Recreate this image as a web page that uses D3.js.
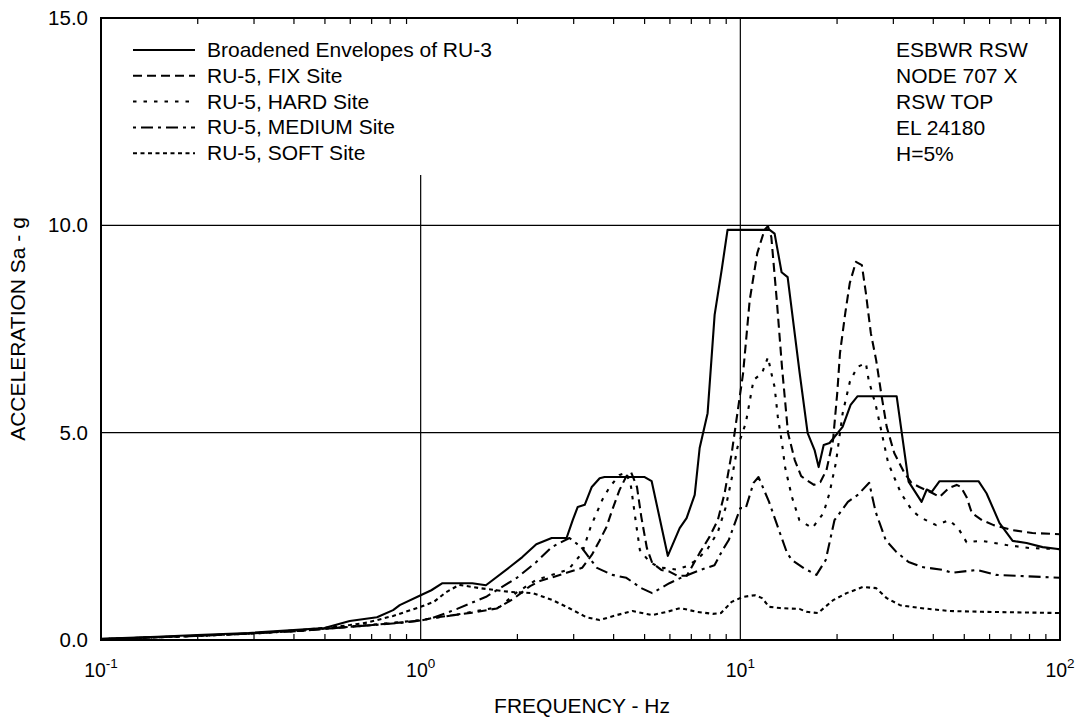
<!DOCTYPE html>
<html><head><meta charset="utf-8">
<script src="https://cdn.jsdelivr.net/npm/d3@7"></script>
<style>
body{margin:0;background:#fff}
text{font-family:"Liberation Sans",Arial,sans-serif;fill:#000}
</style>
</head><body>
<svg id="c" width="1083" height="717"></svg>
<script>
// ---------- data (frequency Hz, acceleration g) ----------
const envelopeRU3 = [[0.1,0.03],[0.15,0.08],[0.2,0.12],[0.29,0.17],[0.4,0.24],[0.5,0.29],[0.6,0.46],[0.73,0.55],[0.82,0.72],[0.86,0.84],[1.0,1.08],[1.08,1.2],[1.17,1.37],[1.45,1.37],[1.6,1.32],[1.9,1.76],[2.08,2.0],[2.3,2.31],[2.57,2.46],[2.86,2.46],[2.99,2.89],[3.1,3.21],[3.26,3.26],[3.43,3.69],[3.63,3.9],[3.76,3.93],[5.02,3.93],[5.28,3.83],[5.93,2.03],[6.46,2.7],[6.79,2.94],[7.2,3.5],[7.46,4.63],[7.9,5.47],[8.31,7.84],[8.74,8.92],[9.12,9.89],[12.35,9.89],[12.8,9.8],[13.46,8.87],[14.06,8.75],[15.33,6.44],[16.24,4.99],[17.07,4.58],[17.58,4.17],[18.23,4.7],[19.02,4.75],[20.89,5.14],[22.13,5.67],[23.28,5.88],[30.83,5.88],[33.6,3.82],[36.9,3.33],[38.3,3.63],[39.7,3.57],[42.0,3.83],[55.6,3.83],[58.9,3.54],[64.7,2.82],[71.1,2.39],[78.6,2.34],[88.2,2.24],[100,2.19]];
const fixSite = [[0.1,0.02],[0.2,0.1],[0.3,0.16],[0.42,0.22],[0.5,0.27],[0.68,0.35],[0.86,0.42],[1.0,0.47],[1.09,0.53],[1.27,0.6],[1.45,0.66],[1.73,0.76],[1.94,0.98],[2.2,1.3],[2.36,1.42],[2.86,1.62],[3.2,1.74],[3.43,2.05],[3.63,2.4],[3.81,2.72],[3.98,3.15],[4.19,3.62],[4.4,3.95],[4.55,4.05],[4.75,3.69],[4.9,2.97],[5.1,2.22],[5.3,1.86],[5.66,1.69],[6.0,1.65],[6.35,1.55],[6.8,1.55],[7.46,2.1],[8.0,2.48],[8.5,2.89],[8.93,3.54],[9.4,4.51],[10.2,6.43],[10.7,8.2],[11.3,9.33],[11.9,9.89],[12.2,9.98],[12.5,9.72],[13.0,8.2],[13.5,6.58],[14.1,4.99],[14.8,4.34],[15.5,3.95],[16.1,3.86],[17.0,3.74],[17.8,3.81],[18.6,4.1],[19.5,4.82],[20.1,5.96],[20.5,6.92],[21.3,7.89],[22.0,8.61],[23.0,9.12],[24.0,9.04],[24.7,8.37],[25.6,7.4],[26.6,6.75],[27.7,5.86],[28.7,5.14],[30.3,4.51],[32.6,4.03],[34.3,3.79],[36.3,3.69],[40,3.54],[42,3.45],[45,3.67],[47.5,3.74],[49,3.69],[51,3.45],[53,3.06],[57,2.89],[62,2.77],[71,2.65],[82,2.58],[100,2.55]];
const hardSite = [[0.1,0.02],[0.2,0.1],[0.3,0.16],[0.42,0.22],[0.5,0.27],[0.68,0.36],[0.86,0.43],[1.0,0.48],[1.27,0.6],[1.45,0.68],[1.77,0.8],[2.0,1.15],[2.3,1.45],[2.6,1.58],[2.9,1.7],[3.2,2.1],[3.4,2.72],[3.55,3.06],[3.7,3.38],[3.9,3.69],[4.19,3.98],[4.4,4.03],[4.55,3.7],[4.7,2.9],[4.85,2.17],[5.2,1.88],[5.6,1.75],[6.3,1.7],[6.8,1.78],[7.3,1.93],[7.9,2.2],[8.5,2.6],[9.0,3.2],[9.4,3.9],[9.8,4.65],[10.4,5.23],[11.0,6.27],[11.7,6.44],[12.2,6.82],[12.5,6.44],[12.8,6.1],[13.1,5.38],[13.5,4.75],[13.8,4.17],[14.5,3.45],[15.3,2.89],[16.8,2.7],[18.2,3.06],[19.0,3.54],[19.9,4.27],[20.9,5.47],[22.0,6.22],[23.2,6.58],[24.7,6.68],[25.2,6.27],[26.6,5.62],[27.7,4.99],[29.0,4.27],[31.8,3.54],[34.4,3.13],[36.5,2.96],[41,2.77],[45,2.89],[48,2.7],[51,2.36],[57,2.39],[68,2.29],[80,2.22],[100,2.19]];
const mediumSite = [[0.1,0.02],[0.2,0.1],[0.3,0.16],[0.42,0.22],[0.5,0.27],[0.68,0.35],[0.86,0.41],[1.0,0.47],[1.09,0.53],[1.3,0.75],[1.61,1.05],[1.77,1.25],[2.0,1.5],[2.3,1.88],[2.57,2.24],[2.92,2.46],[3.18,2.24],[3.56,1.74],[3.98,1.57],[4.4,1.5],[4.9,1.25],[5.3,1.13],[6.0,1.37],[6.6,1.52],[7.5,1.69],[8.3,1.8],[8.8,2.17],[9.2,2.41],[10.0,3.18],[10.4,3.18],[11.0,3.79],[11.4,3.93],[12.3,3.33],[13.3,2.58],[14.0,2.1],[14.5,1.93],[15.8,1.73],[17.3,1.57],[18.5,1.93],[19.7,2.89],[21.7,3.33],[23.3,3.5],[25.3,3.79],[26.5,3.09],[28.5,2.41],[30.8,2.12],[33.6,1.88],[37,1.76],[43,1.69],[46,1.62],[55,1.69],[63,1.57],[100,1.5]];
const softSite = [[0.1,0.02],[0.2,0.1],[0.3,0.16],[0.42,0.24],[0.5,0.29],[0.6,0.36],[0.68,0.42],[0.82,0.58],[1.0,0.8],[1.1,0.92],[1.2,1.15],[1.32,1.33],[1.53,1.25],[1.9,1.16],[2.24,1.13],[2.59,0.96],[2.86,0.8],[3.3,0.55],[3.63,0.48],[4.1,0.6],[4.6,0.7],[5.3,0.6],[5.9,0.68],[6.5,0.77],[7.3,0.68],[8.2,0.63],[8.7,0.65],[9.4,0.92],[10.2,1.04],[11.1,1.08],[11.7,1.01],[12.3,0.8],[13.3,0.77],[15.3,0.75],[16.1,0.68],[17.5,0.65],[19.5,0.96],[21.5,1.13],[24.2,1.28],[26.6,1.25],[28.7,1.01],[31.6,0.84],[36.5,0.77],[45,0.7],[57,0.68],[100,0.65]];

const seriesNames = ["Broadened Envelopes of RU-3","RU-5, FIX Site","RU-5, HARD Site","RU-5, MEDIUM Site","RU-5, SOFT Site"];
const annotation = ["ESBWR RSW","NODE 707 X","RSW TOP","EL 24180","H=5%"];
const yTicks = [0,5,10,15];
const xDecades = [-1,0,1,2];
const xTitle = "FREQUENCY - Hz";
const yTitle = "ACCELERATION Sa - g";

// ---------- styles ----------
const dashes = [null,"9,5","3.5,7","3,5,12,5","4,3.5"];
const seriesData = [envelopeRU3,fixSite,hardSite,mediumSite,softSite];

const L=101,R=1060,T=18,B=640;
const svg=d3.select("#c");
const x=d3.scaleLog().domain([0.1,100]).range([L,R]);
const y=d3.scaleLinear().domain([0,15]).range([B,T]);

// grid lines
const g=svg.append("g").attr("stroke","#000").attr("stroke-width",1.2);
g.append("line").attr("x1",x(1)).attr("x2",x(1)).attr("y1",175).attr("y2",B);
g.append("line").attr("x1",x(10)).attr("x2",x(10)).attr("y1",T).attr("y2",B);
[5,10].forEach(v=>g.append("line").attr("x1",L).attr("x2",R).attr("y1",y(v)).attr("y2",y(v)));

// minor ticks
const minor=[];
[0.1,1,10].forEach(d=>{for(let k=2;k<=9;k++) minor.push(d*k);});
const axB=d3.axisBottom(x).tickValues(minor).tickSize(-6).tickFormat("");
const axT=d3.axisTop(x).tickValues(minor).tickSize(-6).tickFormat("");
svg.append("g").attr("transform",`translate(0,${B})`).call(axB).call(s=>{s.select(".domain").remove();s.selectAll("line").attr("stroke","#000").attr("stroke-width",1.2);});
svg.append("g").attr("transform",`translate(0,${T})`).call(axT).call(s=>{s.select(".domain").remove();s.selectAll("line").attr("stroke","#000").attr("stroke-width",1.2);});

// y axis labels
const axL=d3.axisLeft(y).tickValues(yTicks).tickSize(0).tickPadding(13).tickFormat(d3.format(".1f"));
svg.append("g").attr("transform",`translate(${L},0)`).call(axL).call(s=>{s.select(".domain").remove();s.selectAll("text").attr("font-size",20.5).attr("font-family","Liberation Sans, Arial, sans-serif").attr("fill","#000");});

// x axis labels with superscripts
const xl=svg.append("g");
xDecades.forEach(e=>{
  const t=xl.append("text").attr("x",x(Math.pow(10,e))).attr("y",677).attr("text-anchor","middle").attr("font-size",19.5);
  t.append("tspan").text("10");
  t.append("tspan").attr("font-size",13.5).attr("dy",-9).text(String(e));
});

// titles
svg.append("text").attr("x",582).attr("y",713).attr("text-anchor","middle").attr("font-size",21).text(xTitle);
svg.append("text").attr("transform",`translate(25,${(T+B)/2}) rotate(-90)`).attr("text-anchor","middle").attr("font-size",21).text(yTitle);

// series
const line=d3.line().x(d=>x(d[0])).y(d=>y(d[1]));
seriesData.forEach((d,i)=>{
  svg.append("path").datum(d).attr("d",line).attr("fill","none").attr("stroke","#000")
    .attr("stroke-width",2.1).attr("stroke-linejoin","round")
    .attr("stroke-dasharray",dashes[i]);
});

// frame
svg.append("rect").attr("x",L).attr("y",T).attr("width",R-L).attr("height",B-T)
  .attr("fill","none").attr("stroke","#000").attr("stroke-width",2);

// legend
const lg=svg.append("g");
seriesNames.forEach((n,i)=>{
  const yy=50+i*25.8;
  lg.append("line").attr("x1",133).attr("x2",195).attr("y1",yy).attr("y2",yy)
    .attr("stroke","#000").attr("stroke-width",2).attr("stroke-dasharray",dashes[i]);
  lg.append("text").attr("x",207).attr("y",yy+7).attr("font-size",21).text(n);
});
// annotation
annotation.forEach((s,i)=>{
  svg.append("text").attr("x",896).attr("y",57+i*26.1).attr("font-size",21).text(s);
});
</script>
</body></html>
